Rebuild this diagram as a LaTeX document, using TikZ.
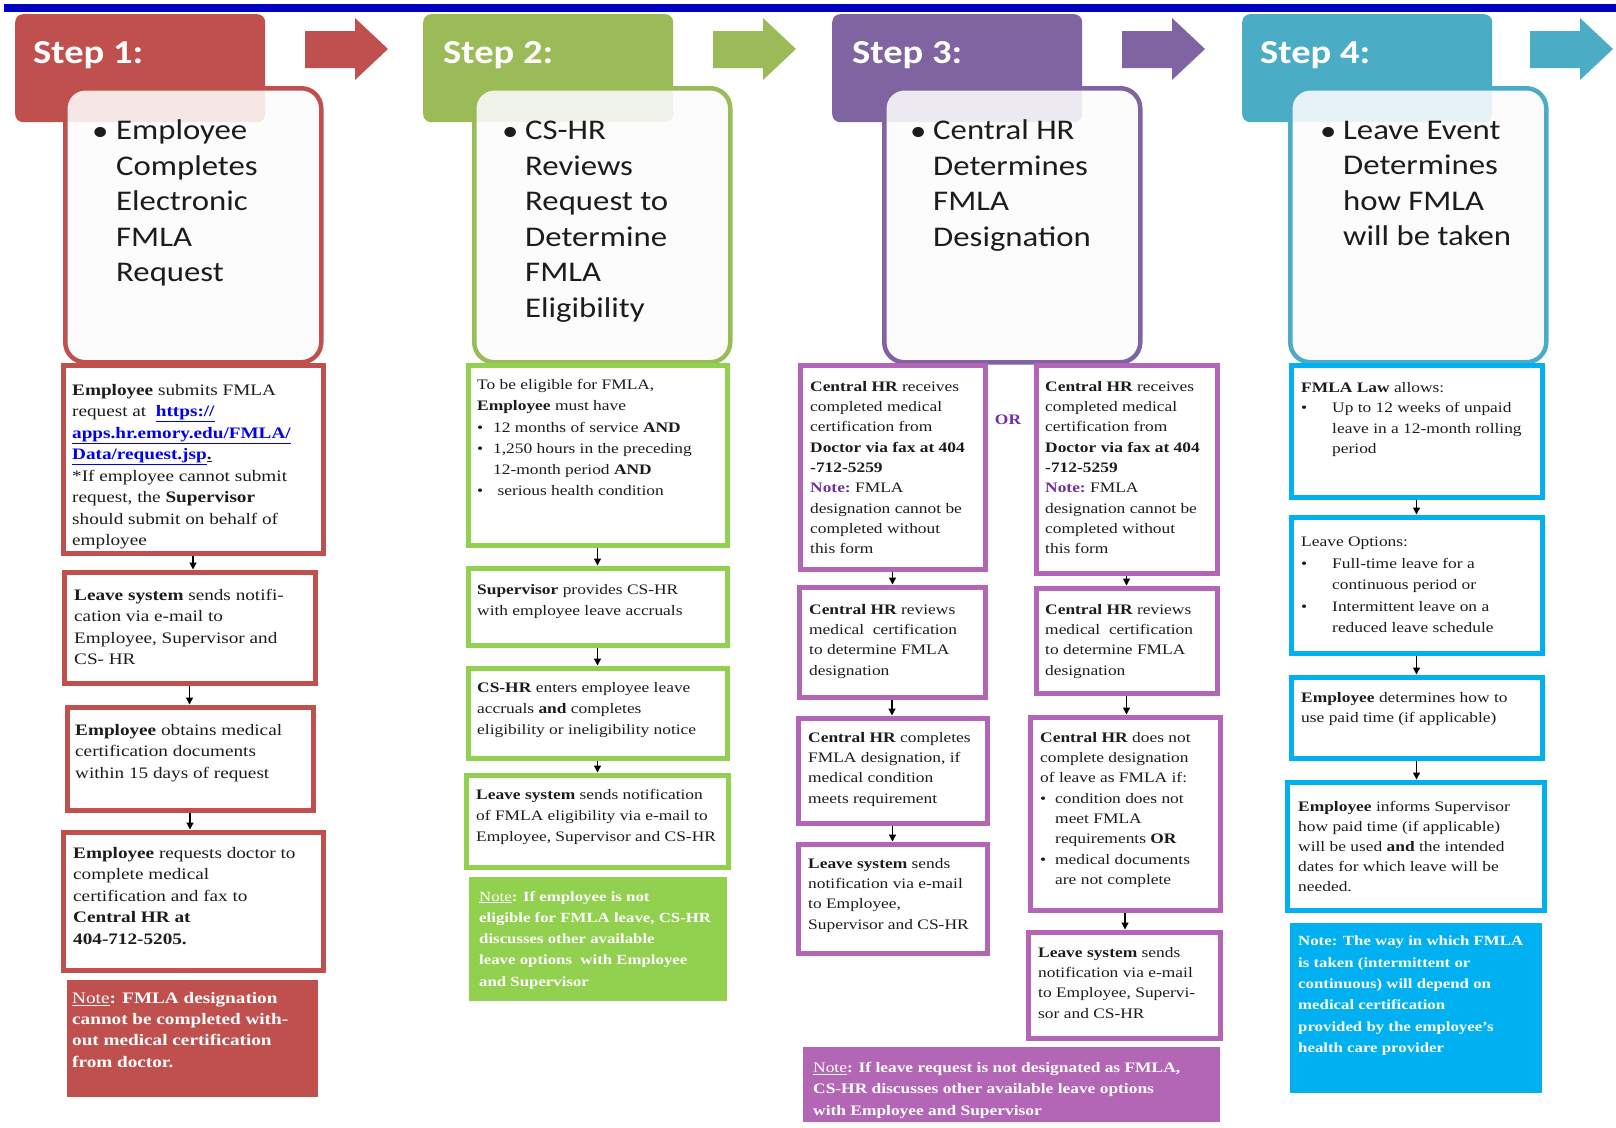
\documentclass[tikz,border=0pt]{standalone}
\usepackage{fontspec}
\newfontfamily\bodyfont{Liberation Serif}[FakeStretch=1.2]
\newfontfamily\headfont{Carlito}[FakeStretch=1.15]
\usetikzlibrary{arrows.meta}

\definecolor{redc}{HTML}{C0504D}
\definecolor{greenh}{HTML}{9BBB59}
\definecolor{greenc}{HTML}{92D050}
\definecolor{purpleh}{HTML}{8064A2}
\definecolor{purplec}{HTML}{B366B5}
\definecolor{cyanh}{HTML}{4BACC6}
\definecolor{cyanc}{HTML}{00B0F0}
\definecolor{barblue}{HTML}{0000C0}
\definecolor{notepurple}{HTML}{7030A0}
\definecolor{linkc}{HTML}{0000EE}
\definecolor{inkc}{HTML}{1C1C1C}

\newcommand{\lnk}[1]{\textcolor{linkc}{\underline{\textbf{#1}}}}
\newcommand{\bul}[1]{\makebox[#1][l]{\textbullet}}
\newcommand{\notelbl}{\underline{\mdseries Note}}
\newcommand{\notep}{{\color{notepurple}\textbf{Note:}}}

\tikzset{
  stephead/.style={fill=#1, rounded corners=8pt, anchor=north west, minimum width=250pt, minimum height=108pt, inner sep=0pt},
  stepbox/.style={draw=#1, line width=4.5pt, fill=white!99!black, fill opacity=0.88, rounded corners=20pt, anchor=north west, minimum width=256pt, minimum height=274pt, inner sep=0pt},
  steptitle/.style={anchor=base west, inner sep=0pt, text=white, font=\headfont\bfseries\fontsize{33.5}{40}\selectfont},
  stepbul/.style={anchor=base west, inner sep=0pt, text=inkc, font=\headfont\fontsize{28.5}{35.5}\selectfont},
  steptext/.style={anchor=north west, align=left, inner sep=0pt, text=inkc, font=\headfont\fontsize{28.5}{35.5}\selectfont},
  box/.style={draw=#1, line width=5pt, fill=white, anchor=north west, inner sep=0pt, outer sep=0pt},
  notebox/.style={fill=#1, anchor=north west, inner sep=0pt, outer sep=0pt},
  txt/.style={anchor=north west, align=left, inner sep=0pt, text=inkc, font=\bodyfont\fontsize{14.5}{#1}\selectfont},
  txt/.default=21,
  bigtxt/.style={txt, font=\bodyfont\fontsize{16}{21.5}\selectfont},
  notetxt/.style={txt, text=white, font=\bodyfont\bfseries\fontsize{#1}{21.3}\selectfont},
  flow/.style={-{Triangle[length=7pt,width=7pt]}, line width=1.2pt, shorten <=2.5pt, shorten >=2.5pt},
}

\begin{document}
\begin{tikzpicture}[x=1pt,y=-1pt]
\useasboundingbox (0,0) rectangle (1616,1127);
\fill[barblue] (4,4) rectangle (1616,12);

% step headers
\node[stephead=redc] (h1) at (15,14) {};
\node[stephead=greenh] (h2) at (423,14) {};
\node[stephead=purpleh] (h3) at (832,14) {};
\node[stephead=cyanh] (h4) at (1242,14) {};
\node[steptitle] (h1t) at (33,63) {Step 1:};
\node[steptitle] (h2t) at (443,63) {Step 2:};
\node[steptitle] (h3t) at (852,63) {Step 3:};
\node[steptitle] (h4t) at (1260,63) {Step 4:};

% block arrows between the steps
\foreach \dx/\col in {0/redc,408/greenh,817/purpleh,1225/cyanh}
  \fill[\col, shift={(\dx,0)}] (305,31) -- (355,31) -- (355,18) -- (388,49) -- (355,80) -- (355,68) -- (305,68) -- cycle;

% rounded step boxes
\node[stepbox=redc] (s1) at (63,86) {};
\node[stepbox=greenh] (s2) at (472,86) {};
\node[stepbox=purpleh] (s3) at (882,86) {};
\node[stepbox=cyanh] (s4) at (1288,86) {};
\node[stepbul] (s1b) at (92,140) {\textbullet};
\node[stepbul] (s2b) at (502,140) {\textbullet};
\node[stepbul] (s3b) at (910,140) {\textbullet};
\node[stepbul] (s4b) at (1320,140) {\textbullet};
\node[steptext] (s1t) at (116,120) {Employee\\Completes\\Electronic\\FMLA\\Request};
\node[steptext] (s2t) at (525,121) {CS-HR\\Reviews\\Request to\\Determine\\FMLA\\Eligibility};
\node[steptext] (s3t) at (933,120) {Central HR\\Determines\\FMLA\\Designation};
\node[steptext] (s4t) at (1343,121) {Leave Event\\Determines\\how FMLA\\will be taken};

% column 1
\node[box=redc, minimum width=260pt, minimum height=188pt] (a1) at (63,365) {};
\node[box=redc, minimum width=251pt, minimum height=111pt] (a2) at (64,572) {};
\node[box=redc, minimum width=246pt, minimum height=103pt] (a3) at (67,707) {};
\node[box=redc, minimum width=260pt, minimum height=138pt] (a4) at (63,832) {};
\node[notebox=redc, minimum width=251pt, minimum height=117pt] (a5) at (67,980) {};
\node[bigtxt] (a1t) at (72,384) {\textbf{Employee} submits FMLA\\request at \ \lnk{https://}\\\lnk{apps.hr.emory.edu/FMLA/}\\\lnk{Data/request.jsp}\underline{\textbf{.}}\\*If employee cannot submit\\request, the \textbf{Supervisor}\\should submit on behalf of\\employee};
\node[bigtxt] (a2t) at (74,589) {\textbf{Leave system} sends notifi-\\cation via e-mail to\\Employee, Supervisor and\\CS- HR};
\node[bigtxt] (a3t) at (75,724) {\textbf{Employee} obtains medical\\certification documents\\within 15 days of request};
\node[bigtxt] (a4t) at (73,847) {\textbf{Employee} requests doctor to\\complete medical\\certification and fax to\\\textbf{Central HR at}\\\textbf{404-712-5205.}};
\node[notetxt=16] (a5t) at (72,992) {\notelbl: FMLA designation\\cannot be completed with-\\out medical certification\\from doctor.};
\draw[flow] (a1.south) -- (a1.south |- a2.north);
\draw[flow] (a2.south) -- (a2.south |- a3.north);
\draw[flow] (a3.south) -- (a3.south |- a4.north);

% column 2
\node[box=greenc, minimum width=259pt, minimum height=180pt] (b1) at (468,365) {};
\node[box=greenc, minimum width=259pt, minimum height=77pt] (b2) at (468,568) {};
\node[box=greenc, minimum width=259pt, minimum height=90pt] (b3) at (468,668) {};
\node[box=greenc, minimum width=262pt, minimum height=92pt] (b4) at (466,775) {};
\node[notebox=greenc, minimum width=258pt, minimum height=124pt] (b5) at (469,877) {};
\node[txt=21.3] (b1t) at (477,379) {To be eligible for FMLA,\\\textbf{Employee} must have\\\bul{16pt}12 months of service \textbf{AND}\\\bul{16pt}1,250 hours in the preceding\\\hspace*{16pt}12-month period \textbf{AND}\\\bul{16pt} serious health condition};
\node[txt] (b2t) at (477,584) {\textbf{Supervisor} provides CS-HR\\with employee leave accruals};
\node[txt] (b3t) at (477,682) {\textbf{CS-HR} enters employee leave\\accruals \textbf{and} completes\\eligibility or ineligibility notice};
\node[txt] (b4t) at (476,789) {\textbf{Leave system} sends notification\\of FMLA eligibility via e-mail to\\Employee, Supervisor and CS-HR};
\node[notetxt=14] (b5t) at (479,891) {\notelbl: If employee is not\\eligible for FMLA leave, CS-HR\\discusses other available\\leave options \ with Employee\\and Supervisor};
\draw[flow] (b1.south) -- (b1.south |- b2.north);
\draw[flow] (b2.south) -- (b2.south |- b3.north);
\draw[flow] (b3.south) -- (b3.south |- b4.north);

% column 3
\node[box=purplec, minimum width=185pt, minimum height=204pt] (c1l) at (800,365) {};
\node[box=purplec, minimum width=181pt, minimum height=208pt] (c1r) at (1036,365) {};
\node[box=purplec, minimum width=186pt, minimum height=110pt] (c2l) at (799,587) {};
\node[box=purplec, minimum width=181pt, minimum height=105pt] (c2r) at (1036,588) {};
\node[box=purplec, minimum width=189pt, minimum height=105pt] (c3l) at (798,718) {};
\node[box=purplec, minimum width=190pt, minimum height=193pt] (c3r) at (1030,717) {};
\node[box=purplec, minimum width=189pt, minimum height=109pt] (c4l) at (798,844) {};
\node[box=purplec, minimum width=192pt, minimum height=106pt] (c4r) at (1028,932) {};
\node[notebox=purplec, minimum width=417pt, minimum height=75pt] (c5) at (803,1047) {};
\node[txt=20.3] (c1lt) at (810,381) {\textbf{Central HR} receives\\completed medical\\certification from\\\textbf{Doctor via fax at 404}\\\textbf{-712-5259}\\\notep\ FMLA\\designation cannot be\\completed without\\this form};
\node[txt=20.3] (c1rt) at (1045,381) {\textbf{Central HR} receives\\completed medical\\certification from\\\textbf{Doctor via fax at 404}\\\textbf{-712-5259}\\\notep\ FMLA\\designation cannot be\\completed without\\this form};
\node[txt, anchor=center, text=notepurple, font=\bodyfont\bfseries\fontsize{14.5}{17}\selectfont] (or) at (1008,420) {OR};
\node[txt=20.3] (c2lt) at (809,604) {\textbf{Central HR} reviews\\medical \ certification\\to determine FMLA\\designation};
\node[txt=20.3] (c2rt) at (1045,604) {\textbf{Central HR} reviews\\medical \ certification\\to determine FMLA\\designation};
\node[txt=20.3] (c3lt) at (808,732) {\textbf{Central HR} completes\\FMLA designation, if\\medical condition\\meets requirement};
\node[txt=20.3] (c3rt) at (1040,732) {\textbf{Central HR} does not\\complete designation\\of leave as FMLA if:\\\bul{15pt}condition does not\\\hspace*{15pt}meet FMLA\\\hspace*{15pt}requirements \textbf{OR}\\\bul{15pt}medical documents\\\hspace*{15pt}are not complete};
\node[txt=20.3] (c4lt) at (808,858) {\textbf{Leave system} sends\\notification via e-mail\\to Employee,\\Supervisor and CS-HR};
\node[txt=20.3] (c4rt) at (1038,947) {\textbf{Leave system} sends\\notification via e-mail\\to Employee, Supervi-\\sor and CS-HR};
\node[notetxt=14.5] (c5t) at (813,1062) {\notelbl: If leave request is not designated as FMLA,\\CS-HR discusses other available leave options\\with Employee and Supervisor};
\draw[flow] (c1l.south) -- (c1l.south |- c2l.north);
\draw[flow] (c2l.south) -- (c2l.south |- c3l.north);
\draw[flow] (c3l.south) -- (c3l.south |- c4l.north);
\draw[flow] (c1r.south) -- (c1r.south |- c2r.north);
\draw[flow] (c2r.south) -- (c2r.south |- c3r.north);
\draw[flow] (c3r.south) -- (c3r.south |- c4r.north);

% column 4
\node[box=cyanc, minimum width=251pt, minimum height=132pt] (d1) at (1291,365) {};
\node[box=cyanc, minimum width=251pt, minimum height=136pt] (d2) at (1291,517) {};
\node[box=cyanc, minimum width=251pt, minimum height=81pt] (d3) at (1291,677) {};
\node[box=cyanc, minimum width=257pt, minimum height=128pt] (d4) at (1287,782) {};
\node[notebox=cyanc, minimum width=252pt, minimum height=170pt] (d5) at (1290,923) {};
\node[txt=20.5] (d1t) at (1301,382) {\textbf{FMLA Law} allows:\\\bul{31pt}Up to 12 weeks of unpaid\\\hspace*{31pt}leave in a 12-month rolling\\\hspace*{31pt}period};
\node[txt=21.5] (d2t) at (1301,537) {Leave Options:\\\bul{31pt}Full-time leave for a\\\hspace*{31pt}continuous period or\\\bul{31pt}Intermittent leave on a\\\hspace*{31pt}reduced leave schedule};
\node[txt=20.5] (d3t) at (1301,692) {\textbf{Employee} determines how to\\use paid time (if applicable)};
\node[txt=20] (d4t) at (1298,801) {\textbf{Employee} informs Supervisor\\how paid time (if applicable)\\will be used \textbf{and} the intended\\dates for which leave will be\\needed.};
\node[notetxt=14] (d5t) at (1298,936) {Note: The way in which FMLA\\is taken (intermittent or\\continuous) will depend on\\medical certification\\provided by the employee’s\\health care provider};
\draw[flow] (d1.south) -- (d1.south |- d2.north);
\draw[flow] (d2.south) -- (d2.south |- d3.north);
\draw[flow] (d3.south) -- (d3.south |- d4.north);
\end{tikzpicture}
\end{document}
